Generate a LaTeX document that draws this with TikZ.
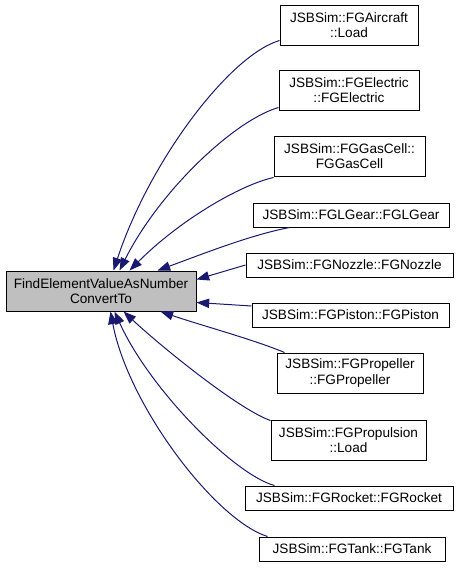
\documentclass[tikz,border=0pt]{standalone}
\usepackage{fontspec}
\setmainfont{Liberation Sans}
\usetikzlibrary{arrows.meta,calc}
\definecolor{edgeblue}{HTML}{191970}
\definecolor{mainfill}{HTML}{BFBFBF}
\begin{document}
\begin{tikzpicture}[x=0.75pt,y=-0.75pt,
  box/.style={draw=black,line width=0.75pt,fill=white,inner sep=0pt,align=center,
    font=\fontsize{10.2}{11.5}\selectfont},
  edge/.style={draw=edgeblue,line width=0.75pt,
    -{Triangle[length=9.5pt,width=7pt]},shorten >=0pt}]
\useasboundingbox (0,0) rectangle (459,568);
\node[box,fill=mainfill,minimum width=190*0.75pt,minimum height=40*0.75pt] (main) at (101,291) {FindElementValueAsNumber\\ConvertTo};
\node[box,minimum width=138*0.75pt,minimum height=40*0.75pt] (air) at (349,25) {JSBSim::FGAircraft\\::Load};
\node[box,minimum width=140*0.75pt,minimum height=40*0.75pt] (ele) at (349,90) {JSBSim::FGElectric\\::FGElectric};
\node[box,minimum width=151*0.75pt,minimum height=40*0.75pt] (gas) at (349.5,156) {JSBSim::FGGasCell::\\FGGasCell};
\node[box,minimum width=196*0.75pt,minimum height=24*0.75pt] (lg) at (351,215) {JSBSim::FGLGear::FGLGear};
\node[box,minimum width=207*0.75pt,minimum height=24*0.75pt] (noz) at (349.5,265) {JSBSim::FGNozzle::FGNozzle};
\node[box,minimum width=197*0.75pt,minimum height=24*0.75pt] (pis) at (350.5,315) {JSBSim::FGPiston::FGPiston};
\node[box,minimum width=146*0.75pt,minimum height=40*0.75pt] (prop) at (350,373) {JSBSim::FGPropeller\\::FGPropeller};
\node[box,minimum width=155*0.75pt,minimum height=40*0.75pt] (pul) at (348.5,440) {JSBSim::FGPropulsion\\::Load};
\node[box,minimum width=208*0.75pt,minimum height=24*0.75pt] (roc) at (349,498) {JSBSim::FGRocket::FGRocket};
\node[box,minimum width=186*0.75pt,minimum height=24*0.75pt] (tank) at (352,549) {JSBSim::FGTank::FGTank};

\draw[edge] ($(air.south west)+(0,-5)$) .. controls (230,55) and (150,160) .. ($(main.north west)+(108,0)$);
\draw[edge] ($(ele.south west)+(0,-3)$) .. controls (235,120) and (160,190) .. ($(main.north west)+(114,0)$);
\draw[edge] ($(gas.south west)+(0,1)$) .. controls (240,185) and (180,220) .. ($(main.north west)+(124,0)$);
\draw[edge] ($(lg.south west)+(37,0)$) .. controls (250,235) and (200,255) .. ($(main.north west)+(152,0)$);
\draw[edge] (noz.west) -- ($(main.north east)+(0,9)$);
\draw[edge] ($(pis.west)+(0,-9)$) -- ($(main.south east)+(0,-9)$);
\draw[edge] ($(prop.north west)+(8,0)$) .. controls (255,340) and (200,325) .. ($(main.south west)+(155,0)$);
\draw[edge] ($(pul.north west)+(0,1)$) .. controls (240,410) and (165,350) .. ($(main.south west)+(118,0)$);
\draw[edge] ($(roc.north west)+(30,0)$) .. controls (235,475) and (150,390) .. ($(main.south west)+(109,0)$);
\draw[edge] ($(tank.north west)+(9,0)$) .. controls (215,520) and (128,405) .. ($(main.south west)+(105,0)$);
\end{tikzpicture}
\end{document}
